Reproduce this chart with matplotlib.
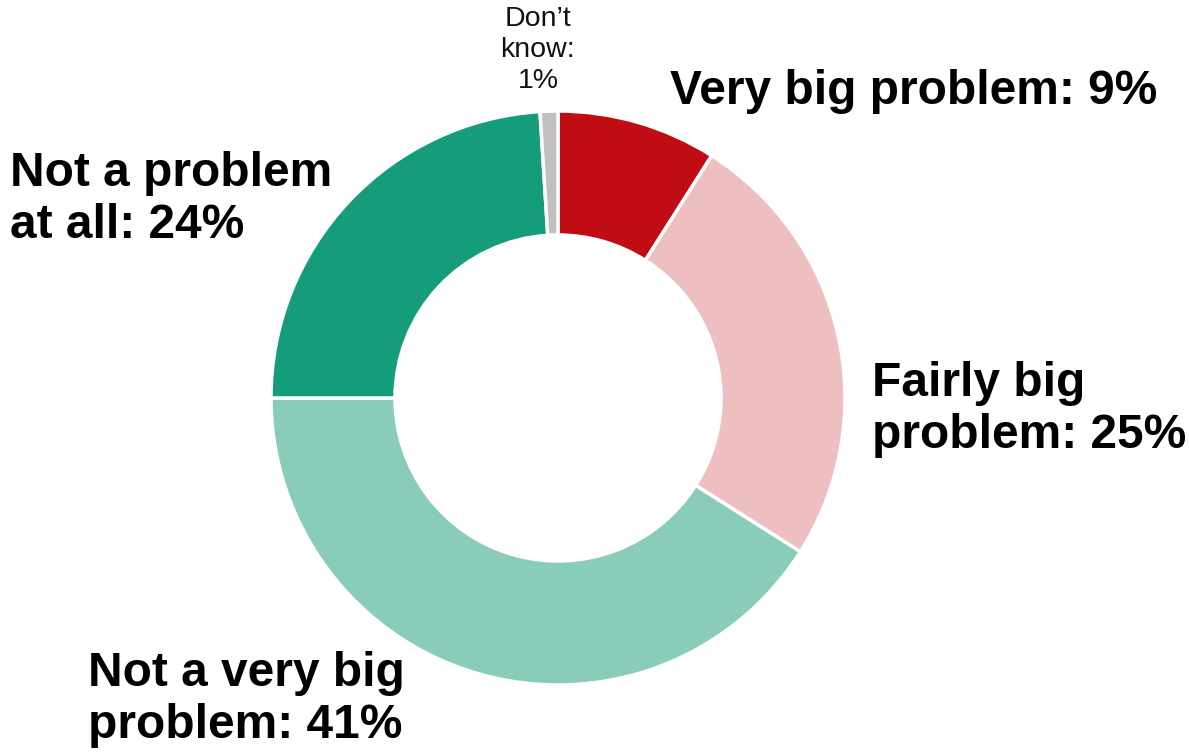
import matplotlib.pyplot as plt

# data, clockwise from 12 o'clock
labels = ["Very big problem: 9%", "Fairly big\nproblem: 25%", "Not a very big\nproblem: 41%",
          "Not a problem\nat all: 24%", "Don\u2019t\nknow:\n1%"]
values = [9, 25, 41, 24, 1]
colors = ["#C00D14", "#EDBFC1", "#88CCB9", "#159C7B", "#C0C0C0"]

plt.rcParams['font.family'] = ['Liberation Sans', 'DejaVu Sans']

W, H = 1189, 752
fig = plt.figure(figsize=(W / 100, H / 100), dpi=100)
ax = fig.add_axes([0, 0, 1, 1])

cx, cy, r = 558, H - 398, 287
ax.pie(values, colors=colors, startangle=90, counterclock=False,
       center=(cx, cy), radius=r, frame=True,
       wedgeprops=dict(width=124, edgecolor='white', linewidth=2.5))
ax.set_xlim(0, W)
ax.set_ylim(0, H)
ax.set_aspect('equal')
ax.axis('off')

big = dict(fontsize=34.5, fontweight='bold', color='black', ha='left', va='center', linespacing=1.2)
ax.text(670, H - 91, labels[0], **big)
ax.text(872, H - 410, labels[1], **big)
ax.text(88, H - 700, labels[2], **big)
ax.text(10, H - 200, labels[3], **big)
ax.text(538, H - 50, labels[4], fontsize=20.5, color='#111111', ha='center', va='center', linespacing=1.25)

fig.savefig('out.png', dpi=100)
